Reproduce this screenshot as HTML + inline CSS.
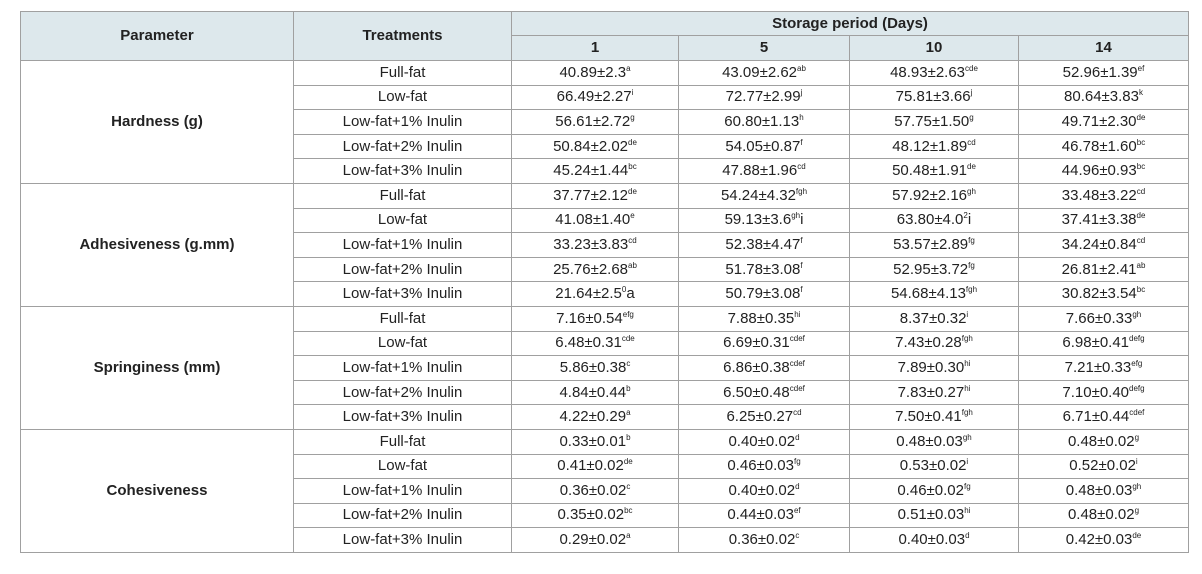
<!DOCTYPE html>
<html><head><meta charset="utf-8"><style>
body{margin:0;background:#fff;width:1202px;height:574px;overflow:hidden;font-family:"Liberation Sans",sans-serif;}
table{position:absolute;left:20px;top:11px;border-collapse:collapse;table-layout:fixed;width:1168px;color:#222;font-size:15px;}
td,th{border:1px solid #a0a0a0;text-align:center;vertical-align:middle;padding:0;line-height:16px;}
th{background:#dde8ec;font-weight:bold;}
thead tr.r1{height:24px}thead tr.r2{height:25px}
tbody tr{height:24.6px}
td.p{font-weight:bold}
sup{font-size:8px;vertical-align:baseline;position:relative;top:-6px;line-height:0}
</style></head><body>
<table>
<colgroup><col style="width:273px"><col style="width:218px"><col style="width:167px"><col style="width:171px"><col style="width:169px"><col style="width:170px"></colgroup>
<thead>
<tr class="r1"><th rowspan="2">Parameter</th><th rowspan="2">Treatments</th><th colspan="4">Storage period (Days)</th></tr>
<tr class="r2"><th>1</th><th>5</th><th>10</th><th>14</th></tr>
</thead>
<tbody>
<tr><td class="p" rowspan="5">Hardness (g)</td><td>Full-fat</td><td>40.89±2.3<sup>a</sup></td><td>43.09±2.62<sup>ab</sup></td><td>48.93±2.63<sup>cde</sup></td><td>52.96±1.39<sup>ef</sup></td></tr>
<tr><td>Low-fat</td><td>66.49±2.27<sup>i</sup></td><td>72.77±2.99<sup>j</sup></td><td>75.81±3.66<sup>j</sup></td><td>80.64±3.83<sup>k</sup></td></tr>
<tr><td>Low-fat+1% Inulin</td><td>56.61±2.72<sup>g</sup></td><td>60.80±1.13<sup>h</sup></td><td>57.75±1.50<sup>g</sup></td><td>49.71±2.30<sup>de</sup></td></tr>
<tr><td>Low-fat+2% Inulin</td><td>50.84±2.02<sup>de</sup></td><td>54.05±0.87<sup>f</sup></td><td>48.12±1.89<sup>cd</sup></td><td>46.78±1.60<sup>bc</sup></td></tr>
<tr><td>Low-fat+3% Inulin</td><td>45.24±1.44<sup>bc</sup></td><td>47.88±1.96<sup>cd</sup></td><td>50.48±1.91<sup>de</sup></td><td>44.96±0.93<sup>bc</sup></td></tr>
<tr><td class="p" rowspan="5">Adhesiveness (g.mm)</td><td>Full-fat</td><td>37.77±2.12<sup>de</sup></td><td>54.24±4.32<sup>fgh</sup></td><td>57.92±2.16<sup>gh</sup></td><td>33.48±3.22<sup>cd</sup></td></tr>
<tr><td>Low-fat</td><td>41.08±1.40<sup>e</sup></td><td>59.13±3.6<sup>gh</sup>i</td><td>63.80±4.0<sup>2</sup>i</td><td>37.41±3.38<sup>de</sup></td></tr>
<tr><td>Low-fat+1% Inulin</td><td>33.23±3.83<sup>cd</sup></td><td>52.38±4.47<sup>f</sup></td><td>53.57±2.89<sup>fg</sup></td><td>34.24±0.84<sup>cd</sup></td></tr>
<tr><td>Low-fat+2% Inulin</td><td>25.76±2.68<sup>ab</sup></td><td>51.78±3.08<sup>f</sup></td><td>52.95±3.72<sup>fg</sup></td><td>26.81±2.41<sup>ab</sup></td></tr>
<tr><td>Low-fat+3% Inulin</td><td>21.64±2.5<sup>0</sup>a</td><td>50.79±3.08<sup>f</sup></td><td>54.68±4.13<sup>fgh</sup></td><td>30.82±3.54<sup>bc</sup></td></tr>
<tr><td class="p" rowspan="5">Springiness (mm)</td><td>Full-fat</td><td>7.16±0.54<sup>efg</sup></td><td>7.88±0.35<sup>hi</sup></td><td>8.37±0.32<sup>i</sup></td><td>7.66±0.33<sup>gh</sup></td></tr>
<tr><td>Low-fat</td><td>6.48±0.31<sup>cde</sup></td><td>6.69±0.31<sup>cdef</sup></td><td>7.43±0.28<sup>fgh</sup></td><td>6.98±0.41<sup>defg</sup></td></tr>
<tr><td>Low-fat+1% Inulin</td><td>5.86±0.38<sup>c</sup></td><td>6.86±0.38<sup>cdef</sup></td><td>7.89±0.30<sup>hi</sup></td><td>7.21±0.33<sup>efg</sup></td></tr>
<tr><td>Low-fat+2% Inulin</td><td>4.84±0.44<sup>b</sup></td><td>6.50±0.48<sup>cdef</sup></td><td>7.83±0.27<sup>hi</sup></td><td>7.10±0.40<sup>defg</sup></td></tr>
<tr><td>Low-fat+3% Inulin</td><td>4.22±0.29<sup>a</sup></td><td>6.25±0.27<sup>cd</sup></td><td>7.50±0.41<sup>fgh</sup></td><td>6.71±0.44<sup>cdef</sup></td></tr>
<tr><td class="p" rowspan="5">Cohesiveness</td><td>Full-fat</td><td>0.33±0.01<sup>b</sup></td><td>0.40±0.02<sup>d</sup></td><td>0.48±0.03<sup>gh</sup></td><td>0.48±0.02<sup>g</sup></td></tr>
<tr><td>Low-fat</td><td>0.41±0.02<sup>de</sup></td><td>0.46±0.03<sup>fg</sup></td><td>0.53±0.02<sup>i</sup></td><td>0.52±0.02<sup>i</sup></td></tr>
<tr><td>Low-fat+1% Inulin</td><td>0.36±0.02<sup>c</sup></td><td>0.40±0.02<sup>d</sup></td><td>0.46±0.02<sup>fg</sup></td><td>0.48±0.03<sup>gh</sup></td></tr>
<tr><td>Low-fat+2% Inulin</td><td>0.35±0.02<sup>bc</sup></td><td>0.44±0.03<sup>ef</sup></td><td>0.51±0.03<sup>hi</sup></td><td>0.48±0.02<sup>g</sup></td></tr>
<tr><td>Low-fat+3% Inulin</td><td>0.29±0.02<sup>a</sup></td><td>0.36±0.02<sup>c</sup></td><td>0.40±0.03<sup>d</sup></td><td>0.42±0.03<sup>de</sup></td></tr>
</tbody>
</table>
</body></html>
